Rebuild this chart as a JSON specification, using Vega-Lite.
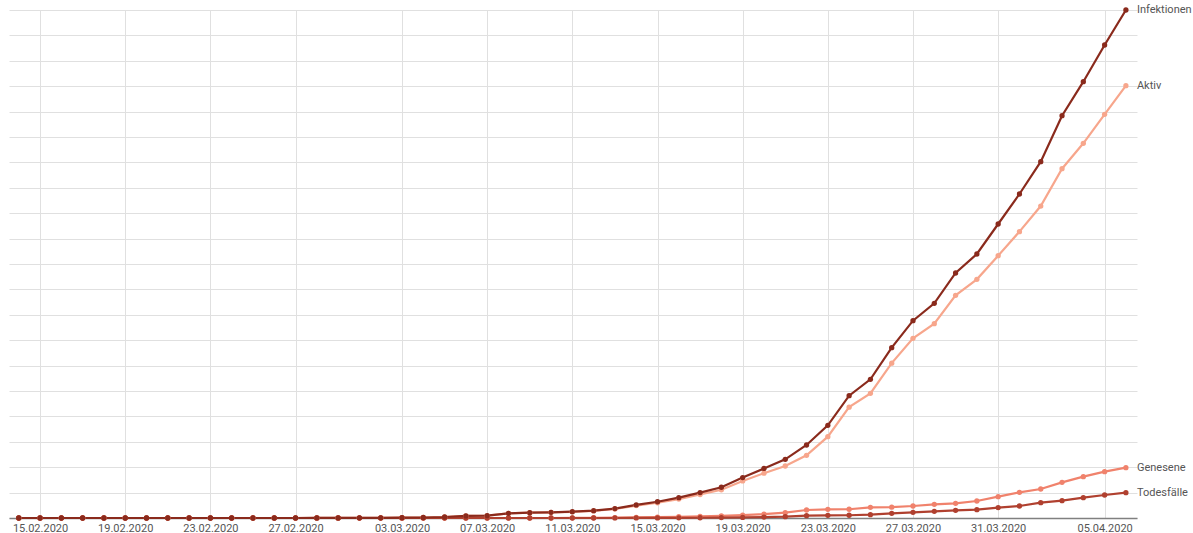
{
  "$schema": "https://vega.github.io/schema/vega-lite/v6.json",
  "width": 1128,
  "height": 508,
  "autosize": {"type": "none"},
  "padding": {"left": 9, "top": 10, "right": 56, "bottom": 15},
  "background": "white",
  "config": {"view": {"stroke": null}, "font": "Roboto"},
  "datasets": {
    "wide": [
      {"date": "2020-02-14", "Infektionen": 0, "Aktiv": 0, "Genesene": 0, "Todesfälle": 0},
      {"date": "2020-02-15", "Infektionen": 0, "Aktiv": 0, "Genesene": 0, "Todesfälle": 0},
      {"date": "2020-02-16", "Infektionen": 0, "Aktiv": 0, "Genesene": 0, "Todesfälle": 0},
      {"date": "2020-02-17", "Infektionen": 0, "Aktiv": 0, "Genesene": 0, "Todesfälle": 0},
      {"date": "2020-02-18", "Infektionen": 0, "Aktiv": 0, "Genesene": 0, "Todesfälle": 0},
      {"date": "2020-02-19", "Infektionen": 0, "Aktiv": 0, "Genesene": 0, "Todesfälle": 0},
      {"date": "2020-02-20", "Infektionen": 0, "Aktiv": 0, "Genesene": 0, "Todesfälle": 0},
      {"date": "2020-02-21", "Infektionen": 0, "Aktiv": 0, "Genesene": 0, "Todesfälle": 0},
      {"date": "2020-02-22", "Infektionen": 0, "Aktiv": 0, "Genesene": 0, "Todesfälle": 0},
      {"date": "2020-02-23", "Infektionen": 0, "Aktiv": 0, "Genesene": 0, "Todesfälle": 0},
      {"date": "2020-02-24", "Infektionen": 0, "Aktiv": 0, "Genesene": 0, "Todesfälle": 0},
      {"date": "2020-02-25", "Infektionen": 0, "Aktiv": 0, "Genesene": 0, "Todesfälle": 0},
      {"date": "2020-02-26", "Infektionen": 0, "Aktiv": 0, "Genesene": 0, "Todesfälle": 0},
      {"date": "2020-02-27", "Infektionen": 1, "Aktiv": 1, "Genesene": 0, "Todesfälle": 0},
      {"date": "2020-02-28", "Infektionen": 2, "Aktiv": 2, "Genesene": 0, "Todesfälle": 0},
      {"date": "2020-02-29", "Infektionen": 3, "Aktiv": 3, "Genesene": 0, "Todesfälle": 0},
      {"date": "2020-03-01", "Infektionen": 5, "Aktiv": 5, "Genesene": 0, "Todesfälle": 0},
      {"date": "2020-03-02", "Infektionen": 8, "Aktiv": 8, "Genesene": 0, "Todesfälle": 0},
      {"date": "2020-03-03", "Infektionen": 12, "Aktiv": 12, "Genesene": 0, "Todesfälle": 0},
      {"date": "2020-03-04", "Infektionen": 20, "Aktiv": 20, "Genesene": 0, "Todesfälle": 0},
      {"date": "2020-03-05", "Infektionen": 40, "Aktiv": 40, "Genesene": 0, "Todesfälle": 0},
      {"date": "2020-03-06", "Infektionen": 80, "Aktiv": 80, "Genesene": 0, "Todesfälle": 0},
      {"date": "2020-03-07", "Infektionen": 95, "Aktiv": 95, "Genesene": 0, "Todesfälle": 0},
      {"date": "2020-03-08", "Infektionen": 185, "Aktiv": 185, "Genesene": 0, "Todesfälle": 0},
      {"date": "2020-03-09", "Infektionen": 210, "Aktiv": 210, "Genesene": 0, "Todesfälle": 0},
      {"date": "2020-03-10", "Infektionen": 225, "Aktiv": 225, "Genesene": 0, "Todesfälle": 0},
      {"date": "2020-03-11", "Infektionen": 250, "Aktiv": 245, "Genesene": 5, "Todesfälle": 0},
      {"date": "2020-03-12", "Infektionen": 290, "Aktiv": 280, "Genesene": 10, "Todesfälle": 0},
      {"date": "2020-03-13", "Infektionen": 370, "Aktiv": 354, "Genesene": 15, "Todesfälle": 1},
      {"date": "2020-03-14", "Infektionen": 515, "Aktiv": 488, "Genesene": 25, "Todesfälle": 2},
      {"date": "2020-03-15", "Infektionen": 640, "Aktiv": 601, "Genesene": 35, "Todesfälle": 4},
      {"date": "2020-03-16", "Infektionen": 800, "Aktiv": 744, "Genesene": 50, "Todesfälle": 6},
      {"date": "2020-03-17", "Infektionen": 1000, "Aktiv": 925, "Genesene": 65, "Todesfälle": 10},
      {"date": "2020-03-18", "Infektionen": 1210, "Aktiv": 1110, "Genesene": 85, "Todesfälle": 15},
      {"date": "2020-03-19", "Infektionen": 1590, "Aktiv": 1458, "Genesene": 110, "Todesfälle": 22},
      {"date": "2020-03-20", "Infektionen": 1950, "Aktiv": 1765, "Genesene": 150, "Todesfälle": 35},
      {"date": "2020-03-21", "Infektionen": 2310, "Aktiv": 2048, "Genesene": 210, "Todesfälle": 52},
      {"date": "2020-03-22", "Infektionen": 2874, "Aktiv": 2467, "Genesene": 315, "Todesfälle": 92},
      {"date": "2020-03-23", "Infektionen": 3649, "Aktiv": 3203, "Genesene": 341, "Todesfälle": 105},
      {"date": "2020-03-24", "Infektionen": 4816, "Aktiv": 4363, "Genesene": 345, "Todesfälle": 108},
      {"date": "2020-03-25", "Infektionen": 5459, "Aktiv": 4908, "Genesene": 420, "Todesfälle": 131},
      {"date": "2020-03-26", "Infektionen": 6706, "Aktiv": 6097, "Genesene": 425, "Todesfälle": 184},
      {"date": "2020-03-27", "Infektionen": 7769, "Aktiv": 7074, "Genesene": 472, "Todesfälle": 223},
      {"date": "2020-03-28", "Infektionen": 8451, "Aktiv": 7651, "Genesene": 538, "Todesfälle": 262},
      {"date": "2020-03-29", "Infektionen": 9646, "Aktiv": 8767, "Genesene": 577, "Todesfälle": 302},
      {"date": "2020-03-30", "Infektionen": 10394, "Aktiv": 9397, "Genesene": 669, "Todesfälle": 328},
      {"date": "2020-03-31", "Infektionen": 11575, "Aktiv": 10328, "Genesene": 840, "Todesfälle": 407},
      {"date": "2020-04-01", "Infektionen": 12756, "Aktiv": 11274, "Genesene": 1010, "Todesfälle": 472},
      {"date": "2020-04-02", "Infektionen": 14028, "Aktiv": 12282, "Genesene": 1142, "Todesfälle": 604},
      {"date": "2020-04-03", "Infektionen": 15839, "Aktiv": 13753, "Genesene": 1404, "Todesfälle": 682},
      {"date": "2020-04-04", "Infektionen": 17178, "Aktiv": 14751, "Genesene": 1627, "Todesfälle": 800},
      {"date": "2020-04-05", "Infektionen": 18622, "Aktiv": 15892, "Genesene": 1824, "Todesfälle": 906},
      {"date": "2020-04-06", "Infektionen": 20000, "Aktiv": 17021, "Genesene": 1982, "Todesfälle": 997}
    ],
    "labels": [
      {"date": "2020-04-06", "series": "Infektionen", "value": 20000},
      {"date": "2020-04-06", "series": "Aktiv", "value": 17021},
      {"date": "2020-04-06", "series": "Genesene", "value": 1982},
      {"date": "2020-04-06", "series": "Todesfälle", "value": 997}
    ]
  },
  "encoding": {
    "x": {
      "field": "date",
      "type": "temporal",
      "scale": {
        "type": "utc",
        "domain": [
          {"year": 2020, "month": 2, "date": 13, "hours": 13, "utc": true},
          {"year": 2020, "month": 4, "date": 6, "hours": 12, "minutes": 30, "utc": true}
        ]
      },
      "axis": {
        "title": null,
        "values": [
          {"year": 2020, "month": 2, "date": 15, "utc": true},
          {"year": 2020, "month": 2, "date": 19, "utc": true},
          {"year": 2020, "month": 2, "date": 23, "utc": true},
          {"year": 2020, "month": 2, "date": 27, "utc": true},
          {"year": 2020, "month": 3, "date": 3, "utc": true},
          {"year": 2020, "month": 3, "date": 7, "utc": true},
          {"year": 2020, "month": 3, "date": 11, "utc": true},
          {"year": 2020, "month": 3, "date": 15, "utc": true},
          {"year": 2020, "month": 3, "date": 19, "utc": true},
          {"year": 2020, "month": 3, "date": 23, "utc": true},
          {"year": 2020, "month": 3, "date": 27, "utc": true},
          {"year": 2020, "month": 3, "date": 31, "utc": true},
          {"year": 2020, "month": 4, "date": 5, "utc": true}
        ],
        "format": "%d.%m.%Y",
        "ticks": false,
        "grid": true,
        "gridColor": "#e0e0e0",
        "gridWidth": 1,
        "domainColor": "#808080",
        "domainWidth": 1.5,
        "labelColor": "#555555",
        "labelFontSize": 11,
        "labelPadding": 4,
        "labelFlush": false,
        "labelOverlap": false
      }
    },
    "y": {
      "field": "value",
      "type": "quantitative",
      "scale": {"domain": [0, 20000], "nice": false},
      "axis": {
        "title": null,
        "labels": false,
        "ticks": false,
        "domain": false,
        "grid": true,
        "gridColor": "#e0e0e0",
        "labelOverlap": false,
        "values": [0, 1000, 2000, 3000, 4000, 5000, 6000, 7000, 8000, 9000, 10000, 11000, 12000, 13000, 14000, 15000, 16000, 17000, 18000, 19000, 20000]
      }
    }
  },
  "layer": [
    {
      "data": {"name": "wide"},
      "transform": [{"fold": ["Aktiv", "Genesene", "Todesfälle", "Infektionen"], "as": ["series", "value"]}],
      "encoding": {
        "color": {
          "field": "series",
          "type": "nominal",
          "scale": {
            "domain": ["Aktiv", "Genesene", "Todesfälle", "Infektionen"],
            "range": ["#f7a68c", "#f0826c", "#b0402f", "#8a2a1c"]
          },
          "legend": null
        }
      },
      "layer": [
        {"mark": {"type": "line", "strokeWidth": 2.2, "interpolate": "linear"}},
        {"mark": {"type": "point", "filled": true, "size": 28, "opacity": 1}}
      ]
    },
    {
      "data": {"name": "labels"},
      "mark": {"type": "text", "align": "left", "baseline": "middle", "dx": 11, "fontSize": 11, "color": "#555555"},
      "encoding": {
        "text": {"field": "series"}
      }
    }
  ]
}
